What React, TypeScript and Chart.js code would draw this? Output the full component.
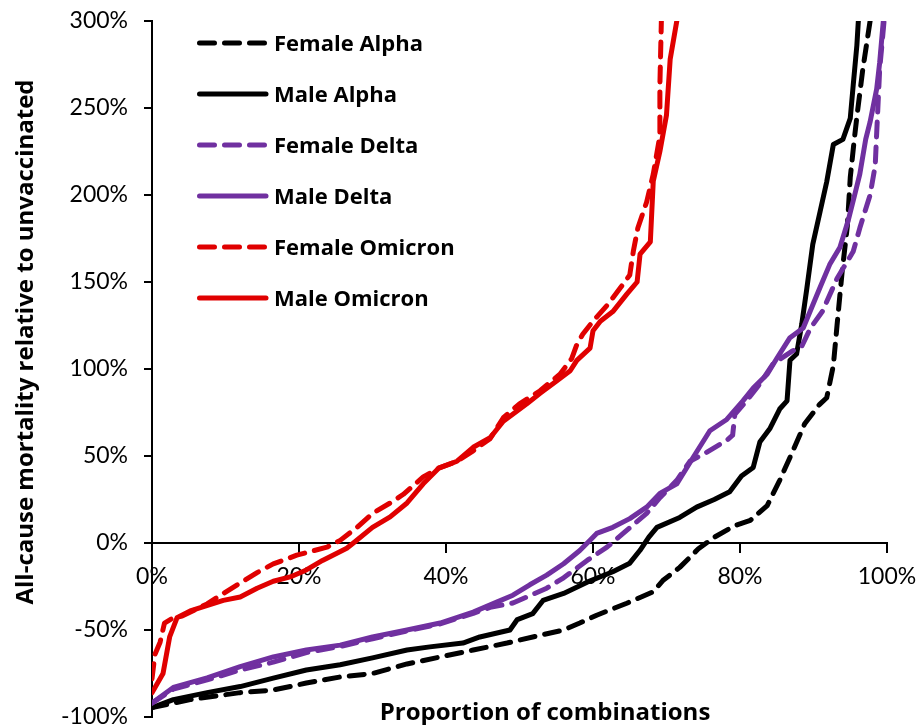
import React, { useEffect, useRef } from "react";
import { Chart, registerables } from "chart.js";

Chart.register(...registerables);

// Proportion of combinations (%) and mortality relative to unvaccinated (%) for each series
const femaleAlphaX = [0, 5.2, 12, 16.5, 21, 25.6, 30, 34.7, 39.2, 43.7, 48.3, 52.8, 56, 58.2, 60.5, 64.6, 68.2, 69.5, 71.8, 74.3, 76.5, 79.3, 81.4, 83.7, 85.4, 87.2, 88.8, 90.8, 91.8, 92.7, 93.2, 93.9, 94.6, 95.0, 95.5, 95.9, 96.7, 97.7];
const femaleAlphaY = [-94.6, -90, -86, -84.5, -80.5, -77, -75, -69.5, -65.5, -61.5, -57.5, -53, -50, -46, -41.5, -34.6, -28, -21.6, -14, -3.5, 3.3, 10, 13, 21.5, 36, 53, 68.5, 79.5, 83.5, 102, 125, 156, 182, 210, 230, 245, 272, 300];

const maleAlphaX = [0, 2.9, 7.5, 12, 16.5, 21, 25.6, 30, 34.7, 37.8, 42.3, 44.6, 48.7, 49.7, 51.8, 53.2, 56, 59.2, 62.7, 65, 66.4, 67.6, 68.7, 71.8, 74.1, 76.5, 78.6, 80.2, 81.8, 82.7, 84.1, 85.4, 86.4, 86.8, 87.7, 88.4, 89.1, 89.9, 90.9, 91.8, 92.7, 94, 95, 95.4, 95.9, 96.1];
const maleAlphaY = [-94.6, -90, -86, -82.5, -77.7, -73, -70, -66, -61.5, -59.7, -57.5, -54, -50, -44, -40.6, -33, -29, -22.5, -16.5, -11.6, -4.2, 3.4, 9, 14.7, 20.6, 25, 29.5, 38.5, 43.4, 58, 66, 77, 81.7, 105, 108.6, 125.7, 146.5, 171.6, 190.5, 207.6, 229, 232, 244, 263, 286, 300];

const femaleDeltaX = [0, 2.9, 7.5, 12, 16.5, 21, 25.6, 30, 34.7, 39.2, 43.7, 46, 49.1, 53.7, 56, 59.2, 61.9, 64.1, 67.3, 69.1, 71.4, 73.2, 75, 78.2, 79, 79.3, 80.9, 82.7, 84.5, 87, 88.4, 89.6, 91.2, 93.2, 95.4, 96.3, 97.7, 98.4, 98.6, 98.8, 99, 99.6];
const femaleDeltaY = [-92, -84, -78.7, -73, -68.5, -63, -59.5, -55, -50.5, -46.5, -40.5, -37, -34.5, -26, -20, -10, -2.4, 5.5, 17, 26, 36, 47, 51, 59, 62, 74, 81.7, 91.5, 103, 110, 113, 123.6, 133, 152, 167.5, 181, 200, 217, 236, 254, 272, 300];

const maleDeltaX = [0, 2.9, 7.5, 12, 16.5, 21, 25.6, 30, 34.7, 39.2, 43.7, 46.9, 49.1, 51.4, 53.7, 56, 58.2, 59.6, 60.5, 62.7, 65, 67.3, 69.1, 71.4, 73.6, 75.9, 78.2, 80.4, 81.8, 83.7, 85, 86.8, 88.6, 90.9, 92.2, 93.6, 94.7, 95.6, 96.3, 97.1, 97.7, 98.6, 99, 99.5];
const maleDeltaY = [-92, -83, -77.5, -71, -65.5, -61.5, -58.7, -54, -50, -46, -39.7, -34, -30, -24, -18.5, -11.9, -4.3, 1.6, 5.5, 9, 14, 20.6, 28.5, 34, 49, 64.5, 71, 81.7, 89, 97, 106, 118, 123.6, 147, 160, 170, 185, 200, 212, 232, 242, 261, 276, 300];

const femaleOmicronX = [0, 0.4, 1.1, 1.7, 2.9, 4.1, 7.5, 9.7, 12, 14.3, 16.5, 19.7, 23.8, 25.6, 27.9, 30, 32.4, 34.2, 36.9, 39, 41.5, 43.7, 46, 47.8, 50, 52.8, 55.5, 57.1, 57.8, 58.6, 60, 62, 63.7, 65, 65.5, 66.1, 67.3, 68.2, 69.1, 69.1, 69.3];
const femaleOmicronY = [-78, -64, -57, -46, -43, -42, -35, -29, -23, -17, -12, -7, -2.4, 1.5, 9, 17, 23, 28, 38, 43, 47, 53, 60, 72, 80, 87.5, 97, 106, 114, 120, 127.5, 137, 146.5, 154, 168, 181, 196, 212, 234, 263, 300];

const maleOmicronX = [0, 1.5, 2.4, 3.4, 5.2, 9.7, 12, 14.3, 16.5, 18.8, 21, 23.2, 26.5, 27.4, 30, 32.4, 34.7, 36.9, 39, 41.5, 43.7, 46, 47.8, 51, 52.8, 55, 56.9, 57.8, 59.6, 60, 61, 62.7, 64.6, 66, 66.4, 67.8, 68.2, 69.1, 70, 70.5, 71.4];
const maleOmicronY = [-86, -75, -54, -43, -39, -33, -31, -26, -22, -19.5, -15.5, -10, -3, 0, 9, 15, 23, 34, 43, 47, 55, 60.5, 70, 80, 86, 93, 99, 105, 112, 122, 127.5, 133, 143, 150, 166, 173, 208, 225, 246, 278, 300];

const seriesLabels = ["Female Alpha", "Male Alpha", "Female Delta", "Male Delta", "Female Omicron", "Male Omicron"];
const xTitle = "Proportion of combinations";
const yTitle = "All-cause mortality relative to unvaccinated";

const BLACK = "#000000";
const PURPLE = "#7030A0";
const RED = "#E00000";
const TICK_FONT = "Lato, 'Open Sans', sans-serif";
const BOLD_FONT = "'Open Sans', Lato, sans-serif";
const DASH = [15, 10];

const toPoints = (xs: number[], ys: number[]) => xs.map((x, i) => ({ x, y: ys[i] }));

// Axis titles drawn at fixed offsets from the plot area
const axisTitlesPlugin = {
  id: "axisTitles",
  afterDraw(chart: any) {
    const { ctx, chartArea } = chart;
    ctx.save();
    ctx.fillStyle = "#000";
    ctx.font = `bold 24px ${BOLD_FONT}`;
    ctx.textAlign = "center";
    ctx.textBaseline = "alphabetic";
    ctx.fillText(xTitle, chartArea.left + 393, chartArea.bottom + 3);
    ctx.translate(chartArea.left - 126, chartArea.top + 321);
    ctx.rotate(-Math.PI / 2);
    ctx.textBaseline = "middle";
    ctx.fillText(yTitle, 0, 0);
    ctx.restore();
  },
};

// Legend with line samples inside the plot area, top-left
const lineLegendPlugin = {
  id: "lineLegend",
  afterDatasetsDraw(chart: any) {
    const { ctx, chartArea } = chart;
    ctx.save();
    chart.data.datasets.forEach((ds: any, i: number) => {
      const y = chartArea.top + 22 + i * 51;
      ctx.strokeStyle = ds.borderColor;
      ctx.lineWidth = 5;
      ctx.lineCap = "round";
      ctx.setLineDash(ds.borderDash || []);
      ctx.beginPath();
      ctx.moveTo(chartArea.left + 47.5, y);
      ctx.lineTo(chartArea.left + 114, y);
      ctx.stroke();
      ctx.setLineDash([]);
      ctx.fillStyle = "#000";
      ctx.font = `bold 22px ${BOLD_FONT}`;
      ctx.textAlign = "left";
      ctx.textBaseline = "alphabetic";
      ctx.fillText(ds.label, chartArea.left + 122, y + 8);
    });
    ctx.restore();
  },
};

export default function App() {
  const canvasRef = useRef<HTMLCanvasElement | null>(null);

  useEffect(() => {
    if (!canvasRef.current) return;
    const series = [
      { xs: femaleAlphaX, ys: femaleAlphaY, color: BLACK, dashed: true },
      { xs: maleAlphaX, ys: maleAlphaY, color: BLACK, dashed: false },
      { xs: femaleDeltaX, ys: femaleDeltaY, color: PURPLE, dashed: true },
      { xs: maleDeltaX, ys: maleDeltaY, color: PURPLE, dashed: false },
      { xs: femaleOmicronX, ys: femaleOmicronY, color: RED, dashed: true },
      { xs: maleOmicronX, ys: maleOmicronY, color: RED, dashed: false },
    ];
    const datasets = series.map((s, i) => ({
      label: seriesLabels[i],
      data: toPoints(s.xs, s.ys),
      borderColor: s.color,
      backgroundColor: s.color,
      borderWidth: 5,
      borderDash: s.dashed ? DASH : [],
      borderCapStyle: "round" as const,
      borderJoinStyle: "round" as const,
      pointRadius: 0,
      tension: 0,
      fill: false,
      order: series.length - i,
    }));

    const tickFont = { family: TICK_FONT, size: 23 };
    const chart = new Chart(canvasRef.current, {
      type: "line",
      data: { datasets },
      options: {
        animation: false,
        responsive: true,
        maintainAspectRatio: false,
        events: [],
        layout: { padding: { left: 0, top: 21, right: 32, bottom: 8 } },
        plugins: { legend: { display: false }, tooltip: { enabled: false } },
        scales: {
          x: {
            type: "linear",
            min: 0,
            max: 100,
            position: { y: 0 } as any,
            border: { color: "#000", width: 2 },
            grid: { drawOnChartArea: false, drawTicks: true, tickLength: 9, color: "#000", lineWidth: 2 },
            ticks: {
              stepSize: 20,
              padding: 11,
              color: "#000",
              font: tickFont,
              maxRotation: 0,
              autoSkip: false,
              callback: (v: any) => `${v}%`,
            },
            afterFit: (axis: any) => {
              axis.paddingLeft = 0;
              axis.paddingRight = 0;
            },
          },
          y: {
            type: "linear",
            position: "left",
            min: -100,
            max: 300,
            border: { color: "#000", width: 2 },
            grid: { drawOnChartArea: false, drawTicks: true, tickLength: 8, color: "#000", lineWidth: 2 },
            ticks: {
              stepSize: 50,
              padding: 16,
              color: "#000",
              font: tickFont,
              callback: (v: any) => `${v}%`,
            },
            afterFit: (axis: any) => {
              axis.width = 152;
              axis.paddingTop = 0;
              axis.paddingBottom = 0;
            },
          },
        },
      },
      plugins: [axisTitlesPlugin, lineLegendPlugin],
    });
    return () => chart.destroy();
  }, []);

  return (
    <div style={{ position: "fixed", left: 0, top: 0, width: 919, height: 725, background: "#fff" }}>
      <canvas ref={canvasRef} />
    </div>
  );
}
